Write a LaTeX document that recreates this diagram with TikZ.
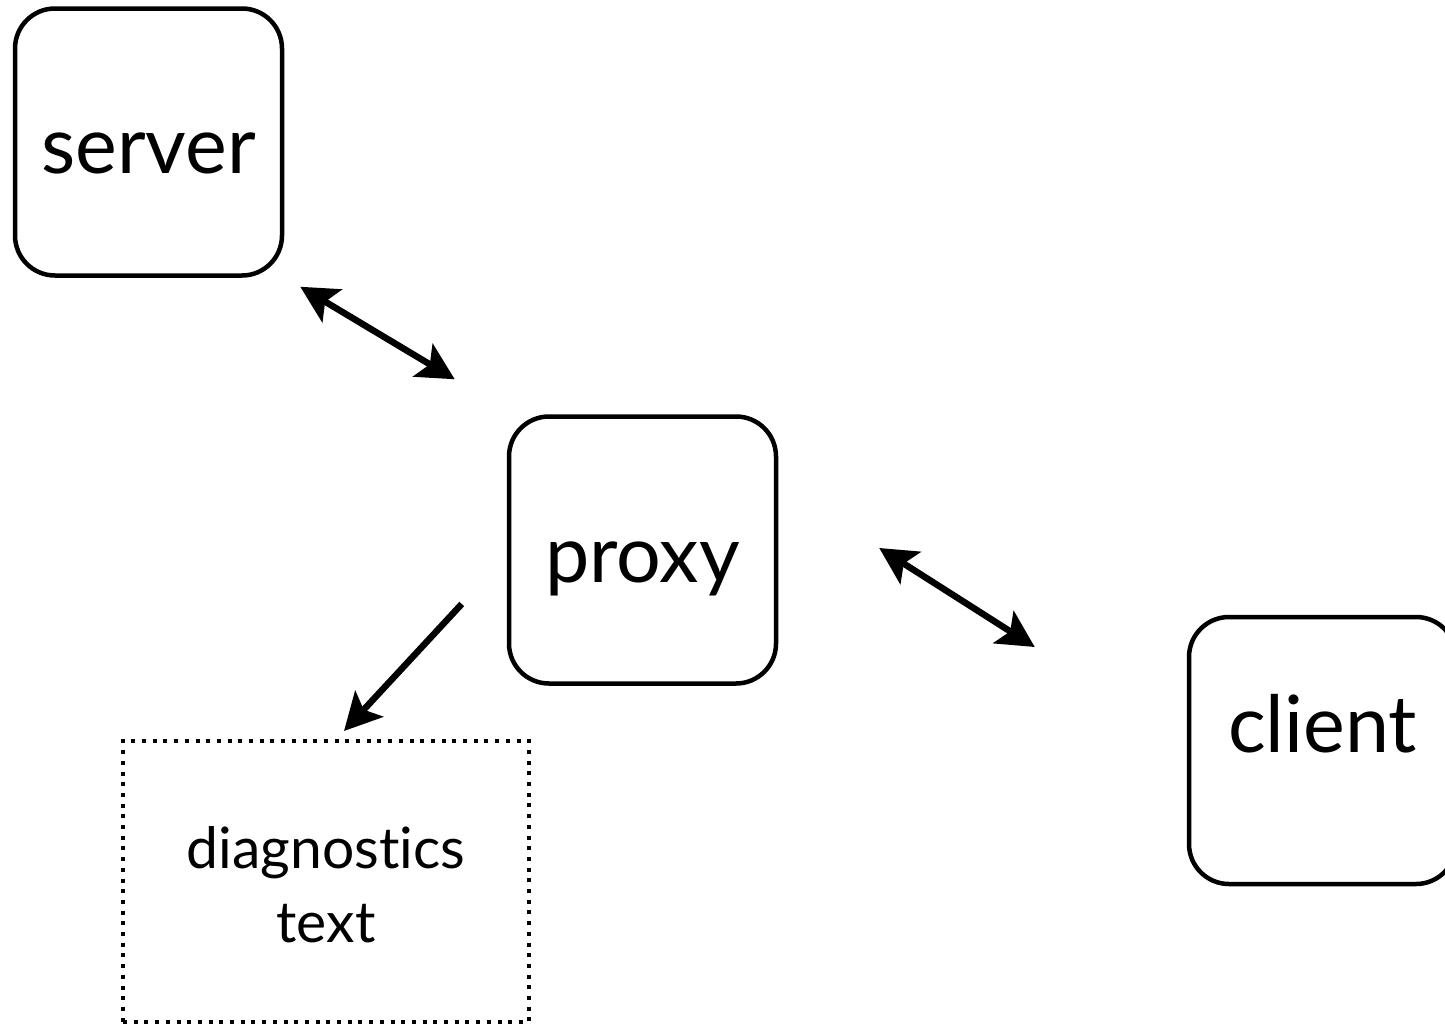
\documentclass[tikz,border=0pt]{standalone}
\usepackage{fontspec}
\setmainfont[Ligatures=CommonOff]{Lato}
\usetikzlibrary{arrows.meta}
\tikzset{
  roundbox/.style={draw=black, line width=4.5pt, rounded corners=40pt,
    minimum width=267pt, minimum height=267pt, inner sep=0pt, fill=white},
  dotbox/.style={draw=black, line width=4pt, dash pattern=on 4pt off 6.7pt,
    minimum width=406pt, minimum height=281pt, inner sep=0pt},
  biglabel/.style={font=\fontsize{79}{94}\selectfont, inner sep=0pt, anchor=base},
  smalllabel/.style={font=\fontsize{57}{74}\selectfont, inner sep=0pt, align=center, anchor=base},
  conn/.style={line width=6.5pt, line cap=butt},
  tip/.tip={Stealth[length=37pt, width=38pt, inset=8pt]}
}
\begin{document}
\begin{tikzpicture}[x=1pt, y=-1pt]
  \useasboundingbox (0,0) rectangle (1445,1026);
  \clip (0,0) rectangle (1445,1026);

  % boxes
  \node[roundbox] (server) at (148.5,142) {};
  \node[roundbox] (proxy)  at (642.5,550) {};
  \node[roundbox] (client) at (1322.5,750.5) {};
  \node[dotbox]   (diag)   at (326,881.5) {};

  % labels (base anchor = baseline of the last line)
  \node[biglabel] (serverlbl) at ([yshift=-31pt]server.center) {server};
  \node[biglabel] (proxylbl)  at ([yshift=-32pt]proxy.center) {proxy};
  \node[biglabel] (clientlbl) at ([yshift=-2pt]client.center) {client};
  \node[smalllabel] (diaglbl) at (326,942) {diagnostics\\text};

  % connector end points
  \coordinate (sp1) at ([shift={(16,9)}]server.south east);
  \coordinate (sp2) at ([shift={(-52,-35)}]proxy.north west);
  \coordinate (pc1) at ([shift={(101,-2)}]proxy.east);
  \coordinate (pc2) at ([shift={(-152,-103.5)}]client.west);
  \coordinate (pd1) at ([shift={(-45,54)}]proxy.west);
  \coordinate (pd2) at ([shift={(18,-8)}]diag.north);

  % connectors
  \draw[conn, tip-tip] (sp1) -- (sp2);
  \draw[conn, tip-tip] (pc1) -- (pc2);
  \draw[conn, -tip] (pd1) -- (pd2);
\end{tikzpicture}
\end{document}
